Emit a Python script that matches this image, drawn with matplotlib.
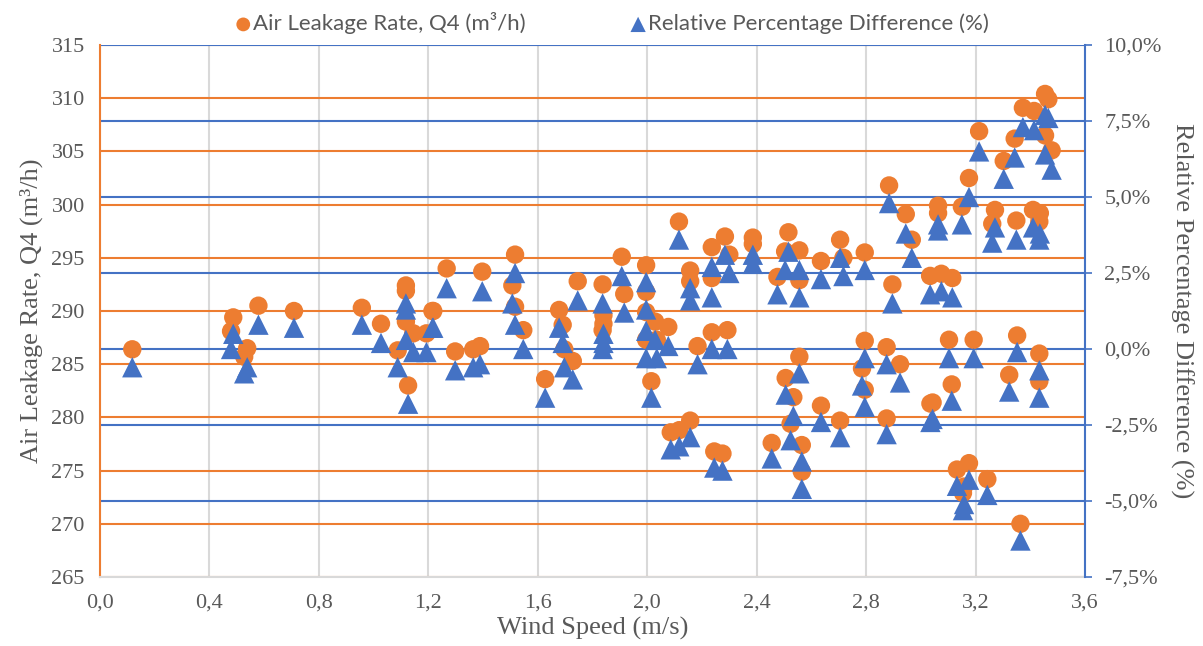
import matplotlib
matplotlib.use("Agg")
import matplotlib.pyplot as plt
from matplotlib.ticker import FuncFormatter

# ---- data ----
wind_speed = [
    0.118, 0.479, 0.487, 0.527, 0.538, 0.579, 0.709, 0.957, 1.027, 1.088,
    1.118, 1.118, 1.118, 1.126, 1.145, 1.193, 1.215, 1.218, 1.267, 1.298,
    1.364, 1.389, 1.397, 1.507, 1.517, 1.517, 1.547, 1.627, 1.678, 1.691,
    1.697, 1.728, 1.746, 1.837, 1.837, 1.840, 1.840, 1.907, 1.916, 1.996,
    1.996, 1.996, 1.996, 2.015, 2.029, 2.035, 2.077, 2.086, 2.116, 2.117,
    2.157, 2.157, 2.157, 2.184, 2.236, 2.236, 2.236, 2.245, 2.275, 2.284,
    2.293, 2.300, 2.386, 2.386, 2.455, 2.476, 2.504, 2.506, 2.516, 2.524,
    2.534, 2.556, 2.556, 2.556, 2.565, 2.565, 2.635, 2.635, 2.705, 2.705,
    2.717, 2.785, 2.795, 2.795, 2.795, 2.875, 2.875, 2.884, 2.896, 2.924,
    2.945, 2.967, 3.034, 3.035, 3.043, 3.063, 3.063, 3.075, 3.103, 3.113,
    3.115, 3.132, 3.150, 3.154, 3.158, 3.176, 3.176, 3.193, 3.213, 3.243,
    3.261, 3.271, 3.303, 3.323, 3.343, 3.349, 3.352, 3.364, 3.373, 3.410,
    3.414, 3.433, 3.433, 3.433, 3.435, 3.454, 3.454, 3.466, 3.478,
]

air_leakage_q4 = [
    286.4, 288.1, 289.4, 285.7, 286.5, 290.5, 290.0, 290.3, 288.8, 286.3,
    292.4, 291.9, 289.0, 283.0, 287.9, 287.9, 290.0, 290.0, 294.0, 286.2,
    286.4, 286.7, 293.7, 292.4, 295.3, 290.4, 288.2, 283.6, 290.1, 288.7,
    286.4, 285.3, 292.8, 292.5, 288.2, 289.6, 288.8, 295.1, 291.6, 294.3,
    291.8, 289.9, 287.3, 283.4, 289.0, 287.3, 288.5, 278.6, 298.4, 278.8,
    293.8, 292.8, 279.7, 286.7, 296.0, 293.1, 288.0, 276.8, 276.6, 297.0,
    288.2, 295.3, 296.9, 296.3, 277.6, 293.2, 295.6, 283.7, 297.4, 279.4,
    281.9, 295.7, 292.9, 285.7, 277.4, 274.9, 294.7, 281.1, 296.7, 279.7,
    295.0, 284.6, 295.5, 287.2, 282.6, 286.6, 279.9, 301.8, 292.5, 285.0,
    299.1, 296.7, 293.3, 281.3, 281.4, 299.9, 299.2, 293.5, 287.3, 283.1,
    293.1, 275.1, 299.8, 272.9, 273.5, 302.5, 275.7, 287.3, 306.9, 274.2,
    298.2, 299.5, 304.1, 284.0, 306.2, 298.5, 287.7, 270.0, 309.1, 299.5,
    308.8, 298.4, 286.0, 283.4, 299.2, 310.4, 306.5, 309.9, 305.1,
]

relative_difference = [
    -0.6, 0.0, 0.5, -0.8, -0.6, 0.8, 0.7, 0.8, 0.2, -0.6,
    1.5, 1.3, 0.3, -1.8, -0.1, -0.1, 0.7, 0.7, 2.0, -0.7,
    -0.6, -0.5, 1.9, 1.5, 2.5, 0.8, 0.0, -1.6, 0.7, 0.2,
    -0.6, -1.0, 1.6, 1.5, 0.0, 0.5, 0.2, 2.4, 1.2, 2.2,
    1.3, 0.6, -0.3, -1.6, 0.3, -0.3, 0.1, -3.3, 3.6, -3.2,
    2.0, 1.6, -2.9, -0.5, 2.7, 1.7, 0.0, -3.9, -4.0, 3.1,
    0.0, 2.5, 3.1, 2.8, -3.6, 1.8, 2.6, -1.5, 3.2, -3.0,
    -2.2, 2.6, 1.7, -0.8, -3.7, -4.6, 2.3, -2.4, 3.0, -2.9,
    2.4, -1.2, 2.6, -0.3, -1.9, -0.5, -2.8, 4.8, 1.5, -1.1,
    3.8, 3.0, 1.8, -2.4, -2.3, 4.1, 3.9, 1.9, -0.3, -1.7,
    1.7, -4.5, 4.1, -5.3, -5.1, 5.0, -4.3, -0.3, 6.5, -4.8,
    3.5, 4.0, 5.6, -1.4, 6.3, 3.6, -0.1, -6.3, 7.3, 4.0,
    7.2, 3.6, -0.7, -1.6, 3.8, 7.7, 6.4, 7.6, 5.9,
]

x_ticks = [0.0, 0.4, 0.8, 1.2, 1.6, 2.0, 2.4, 2.8, 3.2, 3.6]
left_ticks = [265, 270, 275, 280, 285, 290, 295, 300, 305, 310, 315]
right_ticks = [-7.5, -5.0, -2.5, 0.0, 2.5, 5.0, 7.5, 10.0]

ORANGE = "#ED7D31"
BLUE = "#4472C4"
GRID_GRAY = "#D9D9D9"
TEXT_GRAY = "#595959"
SERIF = "Liberation Serif"

fig = plt.figure(figsize=(12.03, 6.46), dpi=100)
ax1 = fig.add_axes([100 / 1203, 1 - 577 / 646, 985 / 1203, 532 / 646])
ax2 = ax1.twinx()

ax1.set_xlim(0, 3.6)
ax1.set_ylim(265, 315)
ax2.set_ylim(-7.5, 10.0)

# grid lines
for xv in x_ticks:
    ax1.axvline(xv, color=GRID_GRAY, lw=1.5, zorder=0)
for yv in left_ticks:
    ax1.axhline(yv, color=ORANGE, lw=1.5, zorder=0.5)
# blue grid at right-axis ticks, drawn in the left axes so markers sit on top
lo1, hi1 = ax1.get_ylim()
lo2, hi2 = ax2.get_ylim()
for p in right_ticks[1:]:
    ax1.axhline(lo1 + (p - lo2) / (hi2 - lo2) * (hi1 - lo1), color=BLUE, lw=1.5, zorder=0.6)

ax1.scatter(wind_speed, air_leakage_q4, s=175, marker="o", color=ORANGE,
            edgecolors="none", zorder=3, label="Air Leakage Rate, Q4 (m³/h)")
ax2.scatter(wind_speed, relative_difference, s=215, marker="^", color=BLUE,
            edgecolors="none", zorder=3, label="Relative Percentage Difference (%)")

ax1.set_xticks(x_ticks)
ax1.set_yticks(left_ticks)
ax2.set_yticks(right_ticks)
ax1.xaxis.set_major_formatter(FuncFormatter(lambda v, _: f"{v:.1f}".replace(".", ",")))
ax2.yaxis.set_major_formatter(FuncFormatter(lambda v, _: f"{v:.1f}%".replace(".", ",")))

for ax in (ax1, ax2):
    for lab in ax.get_xticklabels() + ax.get_yticklabels():
        lab.set_fontfamily(SERIF)
        lab.set_fontsize(16)
        lab.set_color(TEXT_GRAY)

ax1.tick_params(axis="x", length=0, pad=12)
ax1.tick_params(axis="y", length=0, pad=11)
ax2.tick_params(axis="y", length=5, color=BLUE, width=1.2, pad=9)

ax1.spines["left"].set_color(ORANGE)
ax1.spines["left"].set_linewidth(1.5)
ax1.spines["top"].set_visible(False)
ax1.spines["right"].set_visible(False)
ax1.spines["bottom"].set_color(GRID_GRAY)
ax1.spines["bottom"].set_linewidth(1.5)
ax2.spines["right"].set_color(BLUE)
ax2.spines["right"].set_linewidth(1.5)
ax2.spines["left"].set_visible(False)
ax2.spines["top"].set_visible(False)
ax2.spines["bottom"].set_visible(False)

ax1.set_xlabel("Wind Speed (m/s)", fontfamily=SERIF, fontsize=19, color=TEXT_GRAY, labelpad=3)
ax1.set_ylabel("Air Leakage Rate, Q4 (m³/h)", fontfamily=SERIF, fontsize=19, color=TEXT_GRAY, labelpad=6)
ax2.set_ylabel("Relative Percentage Difference (%)", fontfamily=SERIF, fontsize=19,
               color=TEXT_GRAY, rotation=270, labelpad=23)

h1, l1 = ax1.get_legend_handles_labels()
h2, l2 = ax2.get_legend_handles_labels()
leg = fig.legend(h1 + h2, l1 + l2, loc="upper center", bbox_to_anchor=(0.508, 1.012),
                 ncol=2, frameon=False, columnspacing=4.6, handletextpad=0.0,
                 handlelength=0.9, markerscale=0.75, prop={"family": "Lato", "size": 16})
for t in leg.get_texts():
    t.set_color(TEXT_GRAY)

fig.savefig("out.png", dpi=100)
